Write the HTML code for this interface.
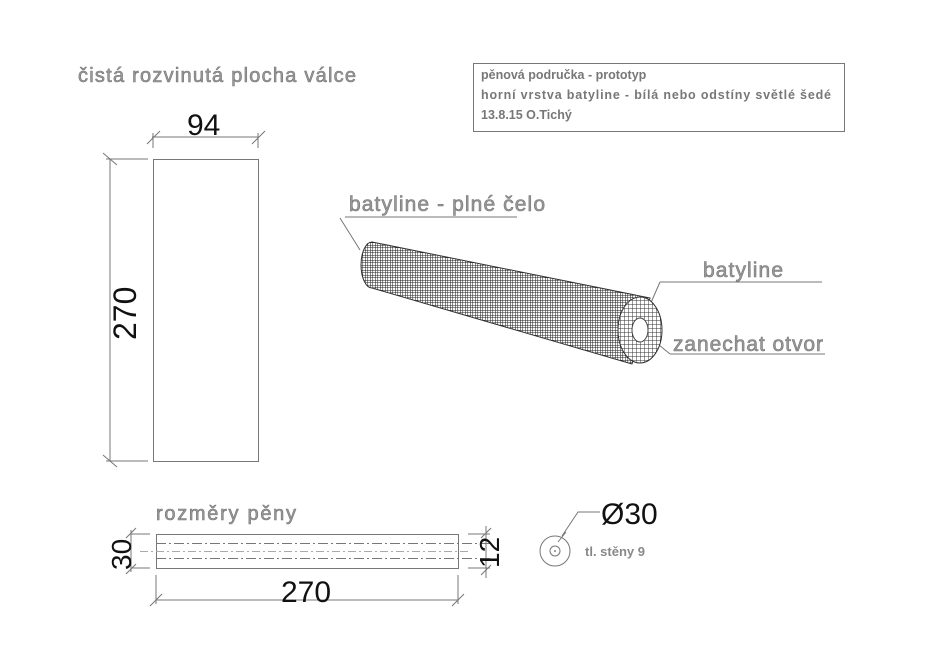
<!DOCTYPE html><html><head><meta charset="utf-8"><style>html,body{margin:0;background:#fff}svg{display:block}</style></head><body>
<svg width="940" height="665" viewBox="0 0 940 665" xmlns="http://www.w3.org/2000/svg" font-family="Liberation Sans, DejaVu Sans, sans-serif">
<defs>
<pattern id="g1" width="2.5" height="2.5" patternUnits="userSpaceOnUse"><rect width="2.5" height="2.5" fill="#fff"/><path d="M0 0H2.5M0 0V2.5" stroke="#222" stroke-width="1.1"/></pattern>
<pattern id="g2" width="4" height="4" patternUnits="userSpaceOnUse"><rect width="4" height="4" fill="#fff"/><path d="M0 0H4M0 0V4" stroke="#333" stroke-width="1"/></pattern>
</defs>
<g fill="#999" stroke="#777" stroke-width="0.6">
<text x="78" y="82" font-size="20" textLength="278" lengthAdjust="spacing">čistá rozvinutá plocha válce</text>
<text x="156" y="520" font-size="20" textLength="140" lengthAdjust="spacing">rozměry pěny</text>
<text x="349" y="211" font-size="21" textLength="196" lengthAdjust="spacing">batyline - plné čelo</text>
<text x="703" y="277" font-size="21" textLength="80" lengthAdjust="spacing">batyline</text>
<text x="673" y="351" font-size="21" textLength="150" lengthAdjust="spacing">zanechat otvor</text>
</g>
<text x="585" y="556" font-size="13" font-weight="bold" fill="#888">tl. stěny 9</text>
<g fill="#777" font-weight="bold" font-size="12.5">
<text x="481" y="79">pěnová područka - prototyp</text>
<text x="481" y="99" textLength="350" lengthAdjust="spacing">horní vrstva batyline - bílá nebo odstíny světlé šedé</text>
<text x="481" y="119">13.8.15  O.Tichý</text>
</g>
<rect x="473.5" y="63.5" width="371" height="68" fill="none" stroke="#777"/>
<g stroke="#777" fill="none" stroke-width="1">
<rect x="153.5" y="159.5" width="105" height="302"/>
<path d="M153 133V148M258 133V148M152 137H259M147 144L160 131M252 144L265 131"/>
<path d="M110 159V461M106 159H148M106 461H148M103 153L117 165M103 455L117 467"/>
<rect x="156.5" y="534.5" width="302" height="34"/>
<path d="M156 575V604M458 575V604M156 600H458M150 606L162 594M452 606L464 594"/>
<path d="M131 534H150M131 568H150M131 530V572M126 538L136 528M126 574L136 564"/>
<path d="M468 534H490M468 568H490M486 526V578M481 538L491 528M481 575L491 565"/>
<path d="M140 551.5H470" stroke-dasharray="8 3 2 3" stroke="#aaa"/>
<path d="M156 543.5H490M156 558.5H490" stroke-dasharray="10 3 2 3"/>
<circle cx="555" cy="551" r="15"/><circle cx="555" cy="551" r="5"/>
<path d="M562 536L578 512H600M558 542L566 532"/>
<path d="M345 217H517M340 218L360 250"/>
<path d="M660 282H822M660 282L646 314"/>
<path d="M670 354H825M670 354L642 331"/>
</g>
<circle cx="555" cy="551" r="0.8" fill="#333"/>
<path d="M372 242L650 298L632 364L372 288A11 23 0 0 1 372 242Z" fill="url(#g1)" stroke="#333"/>
<ellipse cx="640" cy="330" rx="22" ry="33" fill="url(#g2)" stroke="#333"/>
<ellipse cx="640" cy="330" rx="8" ry="12" fill="#fff" stroke="#444"/>
<text x="187" y="135" font-size="30" fill="#111">94</text>
<text transform="translate(136 340) rotate(-90)" font-size="32" fill="#111">270</text>
<text x="281" y="602" font-size="30" fill="#111">270</text>
<text transform="translate(131 570) rotate(-90)" font-size="28" fill="#111">30</text>
<text transform="translate(499 568) rotate(-90)" font-size="28" fill="#111">12</text>
<text x="601" y="524" font-size="30" fill="#111">Ø30</text>
</svg></body></html>
